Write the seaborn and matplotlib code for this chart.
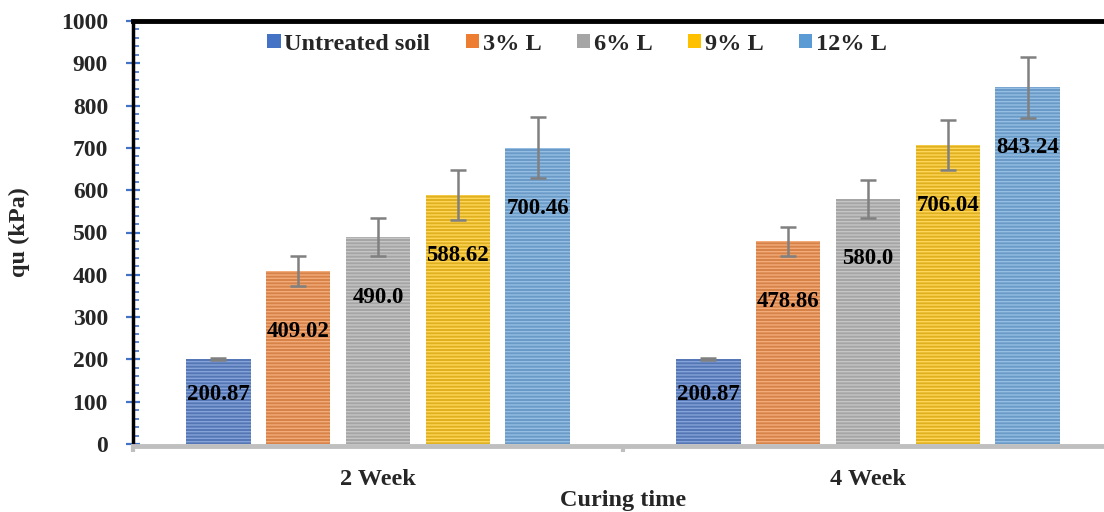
import numpy as np
import pandas as pd
import matplotlib
matplotlib.use("Agg")
import matplotlib.pyplot as plt
import matplotlib.patches as mpatches
from matplotlib.ticker import MultipleLocator, FixedLocator
from matplotlib.colors import to_rgb
import seaborn as sns

# 양생 기간별 일축압축강도 데이터
curing = ["2 Week", "4 Week"]
treatments = ["Untreated soil", "3% L", "6% L", "9% L", "12% L"]
qu_2week = [200.87, 409.02, 490.0, 588.62, 700.46]
qu_4week = [200.87, 478.86, 580.0, 706.04, 843.24]
err_2week = [2, 35, 45, 59, 72]
err_4week = [2, 35, 45, 59, 72]
colors = ["#4472C4", "#ED7D31", "#A5A5A5", "#FFC000", "#5B9BD5"]

rows = []
for t, v2, v4, e2, e4 in zip(treatments, qu_2week, qu_4week, err_2week, err_4week):
    rows.append({"curing": curing[0], "treat": t, "qu": v2, "err": e2})
    rows.append({"curing": curing[1], "treat": t, "qu": v4, "err": e4})
df = pd.DataFrame(rows)

sns.set_theme(style="white")
plt.rcParams["font.family"] = ["Liberation Serif", "DejaVu Serif"]
plt.rcParams["font.weight"] = "bold"
plt.rcParams["hatch.linewidth"] = 1.0

fig = plt.figure(figsize=(11.04, 5.12), dpi=100)
ax = fig.add_axes([133 / 1104, 1 - 444 / 512, 980 / 1104, 423 / 512])

sns.barplot(data=df, x="curing", y="qu", hue="treat", order=curing,
            hue_order=treatments, palette=colors, errorbar=None,
            width=0.815, gap=0.19, legend=False, ax=ax)

bar_conts = list(ax.containers)

# 줄무늬 텍스처 + 오차막대 + 값 라벨
for i, cont in enumerate(bar_conts):
    base = np.array(to_rgb(colors[i]))
    light = tuple(base + (1 - base) * 0.35)
    errs = [err_2week[i], err_4week[i]]
    for j, p in enumerate(cont.patches):
        p.set_edgecolor(light)
        p.set_linewidth(0)
        p.set_hatch("-----")
        cx = p.get_x() + p.get_width() / 2
        ax.errorbar(cx, p.get_height(), yerr=errs[j], color="#808080",
                    elinewidth=1.8, capsize=6, capthick=1.8, zorder=5)
    labels = [str(v) for v in (qu_2week[i], qu_4week[i])]
    pad = -33 if i == 0 else -51
    ax.bar_label(cont, labels=labels, label_type="edge", padding=pad,
                 fontsize=16.5, fontweight="bold", color="black", zorder=6)

ax.set_ylim(0, 1000)
ax.set_xlim(-0.5, 1.5)
ax.yaxis.set_major_locator(MultipleLocator(100))
ax.yaxis.set_minor_locator(MultipleLocator(20))
ax.tick_params(axis="y", which="major", direction="inout", length=10,
               width=1.6, color="#4472C4", labelsize=17, pad=13, left=True)
ax.tick_params(axis="y", which="minor", direction="in", length=4,
               width=1.2, color="#4472C4", left=True)
ax.xaxis.set_minor_locator(FixedLocator([-0.5, 0.5, 1.5]))
ax.tick_params(axis="x", which="major", length=0, labelsize=17.5, pad=16.5)
ax.tick_params(axis="x", which="minor", direction="out", length=4,
               width=3, color="#bfbfbf", bottom=True)
for lab in ax.get_yticklabels() + ax.get_xticklabels():
    lab.set_fontweight("bold")

ax.spines["left"].set_color("black")
ax.spines["left"].set_linewidth(2.5)
ax.spines["top"].set_color("black")
ax.spines["top"].set_linewidth(3.5)
ax.spines["bottom"].set_color("#bfbfbf")
ax.spines["bottom"].set_linewidth(3.5)
ax.spines["bottom"].set_position(("outward", 1.5))
ax.spines["right"].set_visible(False)

ax.set_ylabel("qu (kPa)", fontsize=17.5, fontweight="bold", labelpad=22)
ax.set_xlabel("Curing time", fontsize=17.5, fontweight="bold", labelpad=0)

handles = [mpatches.Patch(facecolor=c, edgecolor="none") for c in colors]
fig.legend(handles, treatments, loc="center", ncol=5, frameon=False,
           bbox_to_anchor=(577 / 1104, 1 - 44 / 512),
           prop={"weight": "bold", "size": 17.5},
           handlelength=0.55, handleheight=0.55, handletextpad=0.15,
           columnspacing=1.45)

fig.savefig("out.png", dpi=100)
